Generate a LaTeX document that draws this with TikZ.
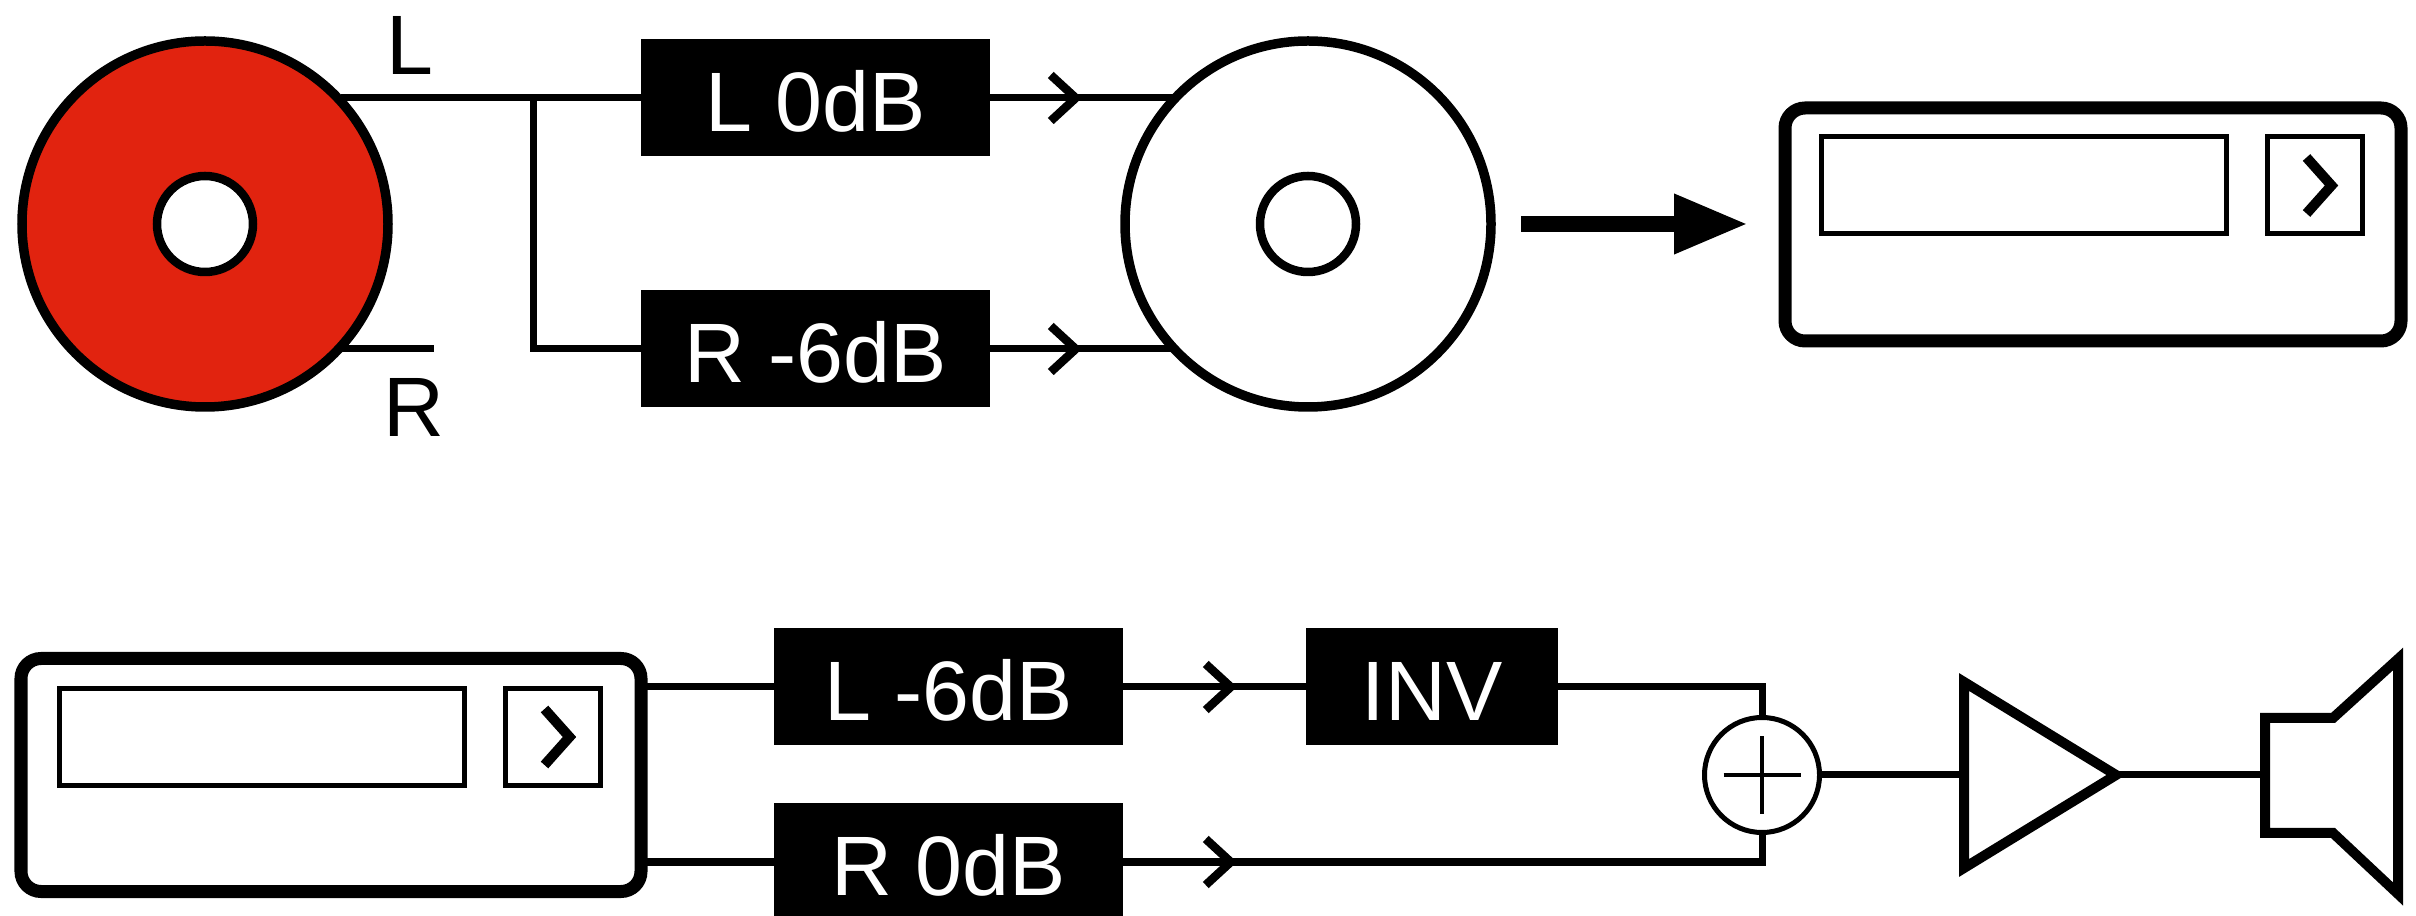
\documentclass[tikz,border=0pt]{standalone}
\usepackage{fontspec}
\setmainfont{Liberation Sans}
\usepackage{tikz}
\usetikzlibrary{arrows.meta, calc}
\definecolor{discred}{RGB}{225,35,15}
\definecolor{inkcol}{RGB}{0,0,0}

\begin{document}
\begin{tikzpicture}[
    wire/.style={inkcol, line width=0.07cm},
    barb/.style={wire, -{Straight Barb[length=0.25cm, width=0.46cm, line width=0.085cm]}},
    disc/.style={circle, draw=inkcol, fill=white, line width=0.095cm, inner sep=0pt, outer sep=0pt, minimum size=3.66cm},
    hole/.style={circle, draw=inkcol, fill=white, line width=0.085cm, inner sep=0pt, outer sep=0pt, minimum size=0.96cm},
    gainbox/.style={fill=inkcol, text=white, inner sep=0pt, outer sep=0pt, minimum height=1.17cm, text height=0.67cm, text depth=0pt, font=\fontsize{24}{28}\selectfont},
    lbl/.style={text=inkcol, inner sep=0pt, font=\fontsize{24}{28}\selectfont},
    player/.style={rectangle, draw=inkcol, fill=white, line width=0.13cm, rounded corners=0.2cm, inner sep=0pt, outer sep=0pt, minimum height=2.33cm},
    screen/.style={rectangle, draw=inkcol, line width=0.05cm, inner sep=0pt, outer sep=0pt, minimum height=0.97cm},
    chevron/.style={inkcol, line width=0.1cm},
    outline/.style={inkcol, line width=0.1cm},
]

\path[use as bounding box] (0,0) rectangle (24.16,9.15);

% ════════════════════════════════════════════════════════
% 1. TOP ROW: red disc, gain boxes, white disc
% ════════════════════════════════════════════════════════
\node[disc, fill=discred] (discR) at (2.05, 6.91) {};
\node[hole] (holeR) at (discR) {};
\node[disc] (discW) at (13.08, 6.91) {};
\node[hole] (holeW) at (discW) {};

\node[lbl] (labL) at (4.10, 8.70) {L};
\node[lbl] (labR) at (4.14, 5.08) {R};

\node[gainbox, minimum width=3.49cm] (boxL) at (8.155, 8.17) {L 0dB};
\node[gainbox, minimum width=3.49cm] (boxR) at (8.155, 5.66) {R -6dB};

\coordinate (jct)   at (5.33, 8.17);
\coordinate (stubR) at (4.34, 5.66);
\coordinate (chevL) at (10.82, 8.17);
\coordinate (chevR) at (10.82, 5.66);

\draw[wire] (discR.42.9 |- boxL.west) -- (boxL.west);
\draw[wire] (discR.-42.9 |- boxR.west) -- (stubR);
\draw[wire] (jct) |- (boxR.west);
\draw[wire] (boxL.east) -- (discW.137.1 |- boxL.east);
\draw[wire] (boxR.east) -- (discW.-137.1 |- boxR.east);
\draw[barb] (boxL.east) -- (chevL);
\draw[barb] (boxR.east) -- (chevR);

% Thick arrow to the player
\coordinate (arrS) at (15.21, 6.91);
\coordinate (arrE) at (17.48, 6.91);
\draw[inkcol, line width=0.16cm, -{Triangle[length=0.74cm, width=0.56cm]}] (arrS) -- (arrE);

% ════════════════════════════════════════════════════════
% 2. PLAYERS
% ════════════════════════════════════════════════════════
\node[player, minimum width=6.16cm] (playT) at (20.93, 6.905) {};
\node[screen, minimum width=4.05cm] (scrT) at ($(playT.center)+(-0.69, 0.39)$) {};
\node[screen, minimum width=0.95cm] (btnT) at ($(playT.center)+(2.215, 0.39)$) {};
\draw[chevron] ($(btnT.center)+(-0.08, 0.28)$) -- ($(btnT.center)+(0.17, 0)$) -- ($(btnT.center)+(-0.08, -0.28)$);

\node[player, minimum width=6.20cm] (playB) at (3.31, 1.40) {};
\node[screen, minimum width=4.05cm] (scrB) at ($(playB.center)+(-0.69, 0.38)$) {};
\node[screen, minimum width=0.95cm] (btnB) at ($(playB.center)+(2.215, 0.38)$) {};
\draw[chevron] ($(btnB.center)+(-0.08, 0.28)$) -- ($(btnB.center)+(0.17, 0)$) -- ($(btnB.center)+(-0.08, -0.28)$);

% ════════════════════════════════════════════════════════
% 3. BOTTOM ROW: gain boxes, inverter, sum, amp, speaker
% ════════════════════════════════════════════════════════
\node[gainbox, minimum width=3.49cm] (boxLb) at (9.485, 2.28) {L -6dB};
\node[gainbox, minimum width=3.49cm] (boxRb) at (9.485, 0.53) {R 0dB};
\node[gainbox, minimum width=2.52cm] (boxI)  at (14.32, 2.28) {INV};

\node[circle, draw=inkcol, fill=white, line width=0.05cm, inner sep=0pt, outer sep=0pt, minimum size=1.15cm] (sum) at (17.62, 1.40) {};
\draw[inkcol, line width=0.045cm] ($(sum)+(-0.385,0)$) -- ($(sum)+(0.385,0)$);
\draw[inkcol, line width=0.045cm] ($(sum)+(0,-0.39)$) -- ($(sum)+(0,0.39)$);

\coordinate (chevLb) at (12.37, 2.28);
\coordinate (chevRb) at (12.37, 0.53);

\draw[wire] (boxLb.west -| playB.east) -- (boxLb.west);
\draw[wire] (boxRb.west -| playB.east) -- (boxRb.west);
\draw[wire] (boxLb.east) -- (boxI.west);
\draw[wire] (boxRb.east) -| (sum.south);
\draw[barb] (boxLb.east) -- (chevLb);
\draw[barb] (boxRb.east) -- (chevRb);
\draw[wire] (boxI.east) -| (sum.north);

% Amplifier
\coordinate (ampA) at (19.64, 2.33);
\coordinate (ampB) at (19.64, 0.47);
\coordinate (ampC) at (21.16, 1.40);
\coordinate (ampI) at (19.64, 1.40);
\draw[outline] (ampA) -- (ampC) -- (ampB) -- cycle;

% Speaker
\coordinate (spkI) at (22.65, 1.40);
\draw[outline] (22.65, 1.97) -- (23.33, 1.97) -- (23.98, 2.56) -- (23.98, 0.21) -- (23.33, 0.82) -- (22.65, 0.82) -- cycle;

\draw[wire] (sum.east) -- (ampI);
\draw[wire] (ampC) -- (spkI);

\end{tikzpicture}
\end{document}
